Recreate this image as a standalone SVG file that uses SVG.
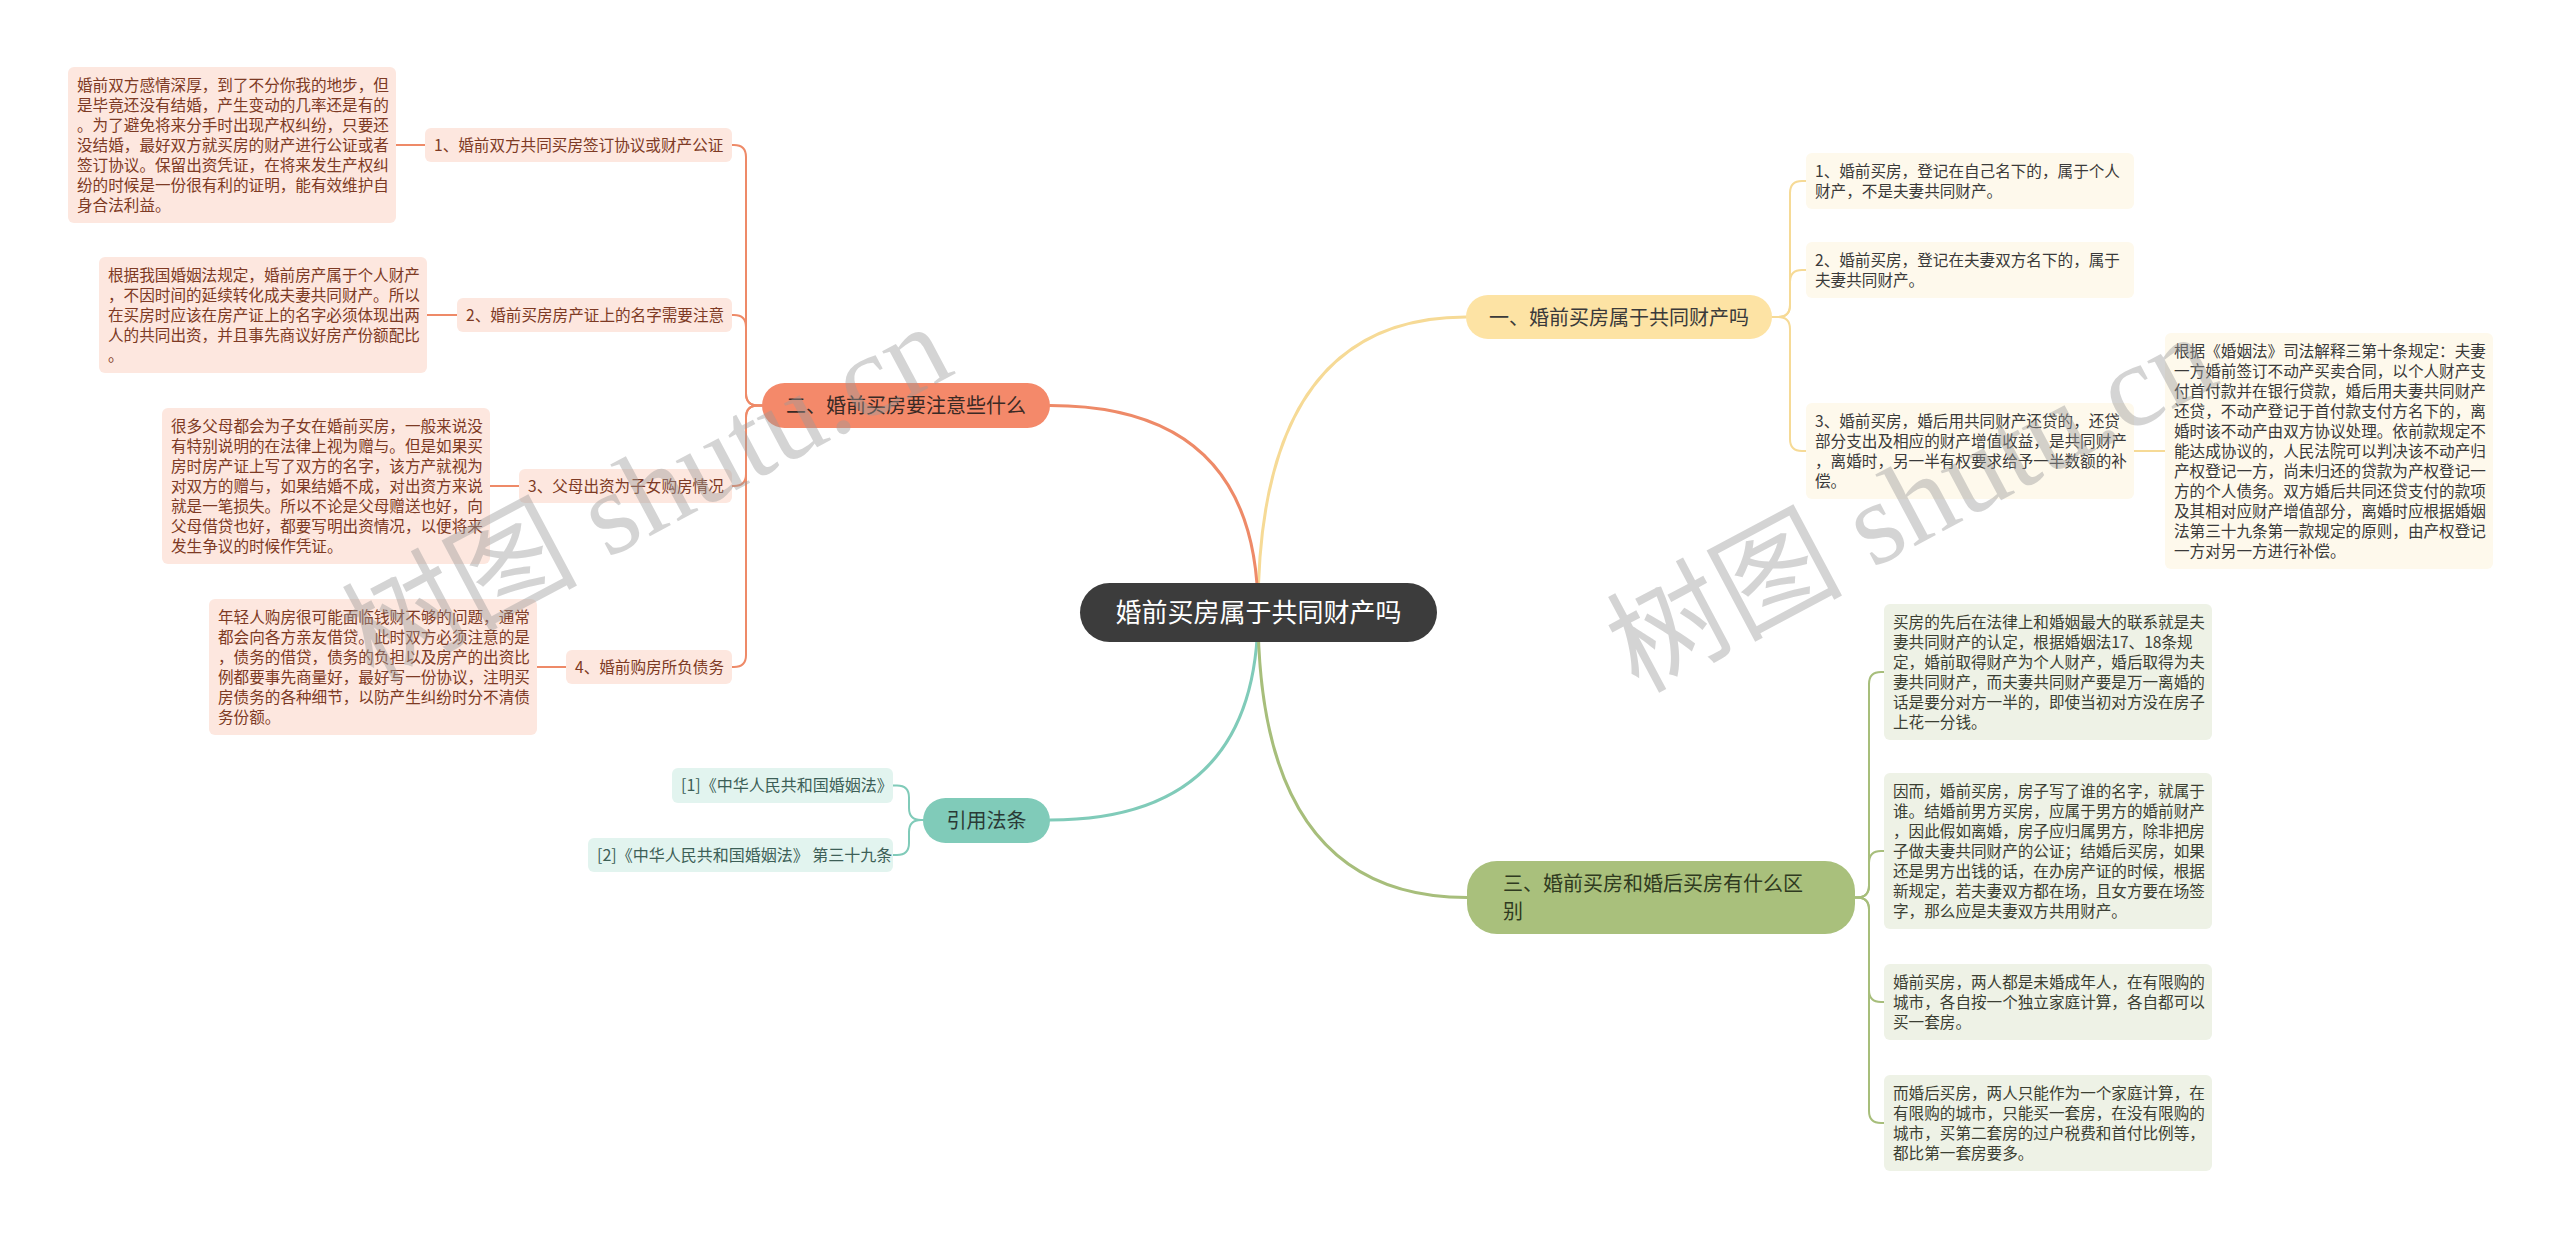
<svg xmlns="http://www.w3.org/2000/svg" width="2560" height="1237" viewBox="0 0 2560 1237">
<style>
text{font-family:"Noto Sans CJK SC","Noto Sans",sans-serif;}
.sub{font-size:15.6px;}
.br{font-size:20px;}
.c{fill:none;stroke-width:2;stroke-linecap:round;}
.rc{fill:none;stroke-width:3;stroke-linecap:round;}
.o{stroke:#ee8a68;} .y{stroke:#f6da96;} .g{stroke:#a7be7b;} .t{stroke:#80cbb9;}
.bo{fill:#fde7df;} .to{fill:#7d3a24;}
.by{fill:#fef9ec;} .ty{fill:#3a3a3a;}
.bg{fill:#eef2e6;} .tg{fill:#3c3f33;}
.bt{fill:#e2f4ef;} .tt{fill:#3d5f57;}
.wm{font-family:"Liberation Serif","Noto Sans CJK SC",serif;font-size:118px;fill:#9a9a9a;opacity:0.42;}
</style>
<rect width="2560" height="1237" fill="#ffffff"/>
<g id="connectors">
<path class="rc y" d="M1258,612 Q1258,317 1466,317"/>
<path class="rc o" d="M1258,612 Q1258,405.5 1050,405.5"/>
<path class="rc t" d="M1258,612 Q1258,820 1050,820"/>
<path class="rc g" d="M1258,612 Q1258,897.5 1467,897.5"/>
<path class="c o" d="M762,405.5 H758 Q746,405.5 746,393.5 V157 Q746,145 734,145 H732"/>
<path class="c o" d="M762,405.5 H758 Q746,405.5 746,393.5 V327 Q746,315 734,315 H732"/>
<path class="c o" d="M762,405.5 H758 Q746,405.5 746,417.5 V474 Q746,486 734,486 H732"/>
<path class="c o" d="M762,405.5 H758 Q746,405.5 746,417.5 V655 Q746,667 734,667 H732"/>
<path class="c o" d="M396,145 H425"/>
<path class="c o" d="M427,315 H457"/>
<path class="c o" d="M490,486 H519"/>
<path class="c o" d="M537,667 H566"/>
<path class="c y" d="M1772,317 H1778 Q1790,317 1790,305 V193 Q1790,181 1802,181 H1806"/>
<path class="c y" d="M1772,317 H1778 Q1790,317 1790,305 V282 Q1790,270 1802,270 H1806"/>
<path class="c y" d="M1772,317 H1778 Q1790,317 1790,329 V439 Q1790,451 1802,451 H1806"/>
<path class="c y" d="M2134,451 H2165"/>
<path class="c g" d="M1855,897.5 H1857 Q1869,897.5 1869,885.5 V684 Q1869,672 1881,672 H1884"/>
<path class="c g" d="M1855,897.5 H1857 Q1869,897.5 1869,885.5 V863 Q1869,851 1881,851 H1884"/>
<path class="c g" d="M1855,897.5 H1857 Q1869,897.5 1869,909.5 V990 Q1869,1002 1881,1002 H1884"/>
<path class="c g" d="M1855,897.5 H1857 Q1869,897.5 1869,909.5 V1111 Q1869,1123 1881,1123 H1884"/>
<path class="c t" d="M923,820 H921 Q909,820 909,808 V797.5 Q909,785.5 897,785.5 H893"/>
<path class="c t" d="M923,820 H921 Q909,820 909,832 V843 Q909,855 897,855 H893"/>
</g>
<g id="root">
<rect x="1080" y="583" width="357" height="59" rx="29.5" fill="#3c3c3c"/>
<text x="1258.5" y="622" font-size="26" fill="#ffffff" text-anchor="middle">婚前买房属于共同财产吗</text>
</g>
<g id="b1">
<rect x="1466" y="295" width="306" height="44" rx="22" fill="#fde3a4"/>
<text class="br" x="1619" y="324.5" fill="#3a3a3a" text-anchor="middle">一、婚前买房属于共同财产吗</text>
</g>
<g id="b2">
<rect x="762" y="383" width="288" height="45" rx="22.5" fill="#f4896a"/>
<text class="br" x="906" y="413" fill="#3a2a25" text-anchor="middle">二、婚前买房要注意些什么</text>
</g>
<g id="b3">
<rect x="1467" y="861" width="388" height="73" rx="30" fill="#a9c07c"/>
<text class="br" fill="#2f3a20"><tspan x="1503" y="890.5">三、婚前买房和婚后买房有什么区</tspan><tspan x="1503" y="918.5">别</tspan></text>
</g>
<g id="b4">
<rect x="923" y="798" width="127" height="45" rx="22.5" fill="#80cbb9"/>
<text class="br" x="986.5" y="827.5" fill="#2a3a36" text-anchor="middle">引用法条</text>
</g>
<g id="l1">
<rect class="bo" x="425" y="128" width="307" height="34" rx="6"/>
<text class="sub to" x="434" y="150.5">1、婚前双方共同买房签订协议或财产公证</text>
</g>
<g id="l2">
<rect class="bo" x="457" y="298" width="275" height="34" rx="6"/>
<text class="sub to" x="466" y="320.5">2、婚前买房房产证上的名字需要注意</text>
</g>
<g id="l3">
<rect class="bo" x="519" y="469" width="213" height="34" rx="6"/>
<text class="sub to" x="528" y="491.5">3、父母出资为子女购房情况</text>
</g>
<g id="l4">
<rect class="bo" x="566" y="650" width="166" height="34" rx="6"/>
<text class="sub to" x="575" y="672.5">4、婚前购房所负债务</text>
</g>
<g id="a1">
<rect class="bo" x="68" y="67" width="328" height="156" rx="6"/>
<text class="sub to"><tspan x="77" y="91">婚前双方感情深厚，到了不分你我的地步，但</tspan><tspan x="77" y="111">是毕竟还没有结婚，产生变动的几率还是有的</tspan><tspan x="77" y="131">。为了避免将来分手时出现产权纠纷，只要还</tspan><tspan x="77" y="151">没结婚，最好双方就买房的财产进行公证或者</tspan><tspan x="77" y="171">签订协议。保留出资凭证，在将来发生产权纠</tspan><tspan x="77" y="191">纷的时候是一份很有利的证明，能有效维护自</tspan><tspan x="77" y="211">身合法利益。</tspan></text>
</g>
<g id="a2">
<rect class="bo" x="99" y="257" width="328" height="116" rx="6"/>
<text class="sub to"><tspan x="108" y="281">根据我国婚姻法规定，婚前房产属于个人财产</tspan><tspan x="108" y="301">，不因时间的延续转化成夫妻共同财产。所以</tspan><tspan x="108" y="321">在买房时应该在房产证上的名字必须体现出两</tspan><tspan x="108" y="341">人的共同出资，并且事先商议好房产份额配比</tspan><tspan x="108" y="361">。</tspan></text>
</g>
<g id="a3">
<rect class="bo" x="162" y="408" width="328" height="156" rx="6"/>
<text class="sub to"><tspan x="171" y="432">很多父母都会为子女在婚前买房，一般来说没</tspan><tspan x="171" y="452">有特别说明的在法律上视为赠与。但是如果买</tspan><tspan x="171" y="472">房时房产证上写了双方的名字，该方产就视为</tspan><tspan x="171" y="492">对双方的赠与，如果结婚不成，对出资方来说</tspan><tspan x="171" y="512">就是一笔损失。所以不论是父母赠送也好，向</tspan><tspan x="171" y="532">父母借贷也好，都要写明出资情况，以便将来</tspan><tspan x="171" y="552">发生争议的时候作凭证。</tspan></text>
</g>
<g id="a4">
<rect class="bo" x="209" y="599" width="328" height="136" rx="6"/>
<text class="sub to"><tspan x="218" y="623">年轻人购房很可能面临钱财不够的问题，通常</tspan><tspan x="218" y="643">都会向各方亲友借贷。此时双方必须注意的是</tspan><tspan x="218" y="663">，债务的借贷，债务的负担以及房产的出资比</tspan><tspan x="218" y="683">例都要事先商量好，最好写一份协议，注明买</tspan><tspan x="218" y="703">房债务的各种细节，以防产生纠纷时分不清债</tspan><tspan x="218" y="723">务份额。</tspan></text>
</g>
<g id="r1">
<rect class="by" x="1806" y="153" width="328" height="56" rx="6"/>
<text class="sub ty"><tspan x="1815" y="177">1、婚前买房，登记在自己名下的，属于个人</tspan><tspan x="1815" y="197">财产，不是夫妻共同财产。</tspan></text>
</g>
<g id="r2">
<rect class="by" x="1806" y="242" width="328" height="56" rx="6"/>
<text class="sub ty"><tspan x="1815" y="266">2、婚前买房，登记在夫妻双方名下的，属于</tspan><tspan x="1815" y="286">夫妻共同财产。</tspan></text>
</g>
<g id="r3">
<rect class="by" x="1806" y="403" width="328" height="96" rx="6"/>
<text class="sub ty"><tspan x="1815" y="427">3、婚前买房，婚后用共同财产还贷的，还贷</tspan><tspan x="1815" y="447">部分支出及相应的财产增值收益，是共同财产</tspan><tspan x="1815" y="467">，离婚时，另一半有权要求给予一半数额的补</tspan><tspan x="1815" y="487">偿。</tspan></text>
</g>
<g id="r4">
<rect class="by" x="2165" y="333" width="328" height="236" rx="6"/>
<text class="sub ty"><tspan x="2174" y="357">根据《婚姻法》司法解释三第十条规定：夫妻</tspan><tspan x="2174" y="377">一方婚前签订不动产买卖合同，以个人财产支</tspan><tspan x="2174" y="397">付首付款并在银行贷款，婚后用夫妻共同财产</tspan><tspan x="2174" y="417">还贷，不动产登记于首付款支付方名下的，离</tspan><tspan x="2174" y="437">婚时该不动产由双方协议处理。依前款规定不</tspan><tspan x="2174" y="457">能达成协议的，人民法院可以判决该不动产归</tspan><tspan x="2174" y="477">产权登记一方，尚未归还的贷款为产权登记一</tspan><tspan x="2174" y="497">方的个人债务。双方婚后共同还贷支付的款项</tspan><tspan x="2174" y="517">及其相对应财产增值部分，离婚时应根据婚姻</tspan><tspan x="2174" y="537">法第三十九条第一款规定的原则，由产权登记</tspan><tspan x="2174" y="557">一方对另一方进行补偿。</tspan></text>
</g>
<g id="g1">
<rect class="bg" x="1884" y="604" width="328" height="136" rx="6"/>
<text class="sub tg"><tspan x="1893" y="628">买房的先后在法律上和婚姻最大的联系就是夫</tspan><tspan x="1893" y="648">妻共同财产的认定，根据婚姻法17、18条规</tspan><tspan x="1893" y="668">定，婚前取得财产为个人财产，婚后取得为夫</tspan><tspan x="1893" y="688">妻共同财产，而夫妻共同财产要是万一离婚的</tspan><tspan x="1893" y="708">话是要分对方一半的，即使当初对方没在房子</tspan><tspan x="1893" y="728">上花一分钱。</tspan></text>
</g>
<g id="g2">
<rect class="bg" x="1884" y="773" width="328" height="156" rx="6"/>
<text class="sub tg"><tspan x="1893" y="797">因而，婚前买房，房子写了谁的名字，就属于</tspan><tspan x="1893" y="817">谁。结婚前男方买房，应属于男方的婚前财产</tspan><tspan x="1893" y="837">，因此假如离婚，房子应归属男方，除非把房</tspan><tspan x="1893" y="857">子做夫妻共同财产的公证；结婚后买房，如果</tspan><tspan x="1893" y="877">还是男方出钱的话，在办房产证的时候，根据</tspan><tspan x="1893" y="897">新规定，若夫妻双方都在场，且女方要在场签</tspan><tspan x="1893" y="917">字，那么应是夫妻双方共用财产。</tspan></text>
</g>
<g id="g3">
<rect class="bg" x="1884" y="964" width="328" height="76" rx="6"/>
<text class="sub tg"><tspan x="1893" y="988">婚前买房，两人都是未婚成年人，在有限购的</tspan><tspan x="1893" y="1008">城市，各自按一个独立家庭计算，各自都可以</tspan><tspan x="1893" y="1028">买一套房。</tspan></text>
</g>
<g id="g4">
<rect class="bg" x="1884" y="1075" width="328" height="96" rx="6"/>
<text class="sub tg"><tspan x="1893" y="1099">而婚后买房，两人只能作为一个家庭计算，在</tspan><tspan x="1893" y="1119">有限购的城市，只能买一套房，在没有限购的</tspan><tspan x="1893" y="1139">城市，买第二套房的过户税费和首付比例等，</tspan><tspan x="1893" y="1159">都比第一套房要多。</tspan></text>
</g>
<g id="c1">
<rect class="bt" x="672" y="768" width="221" height="35" rx="6"/>
<text class="tt" font-size="16" x="681" y="791">[1]《中华人民共和国婚姻法》</text>
</g>
<g id="c2">
<rect class="bt" x="588" y="838" width="305" height="34" rx="6"/>
<text class="tt" font-size="16" x="597" y="860.5">[2]《中华人民共和国婚姻法》 第三十九条</text>
</g>
<g id="watermarks">
<text class="wm" transform="translate(665,528) rotate(-28)" text-anchor="middle">树图 shutu.cn</text>
<text class="wm" transform="translate(1930,538) rotate(-28)" text-anchor="middle">树图 shutu.cn</text>
</g>
</svg>
